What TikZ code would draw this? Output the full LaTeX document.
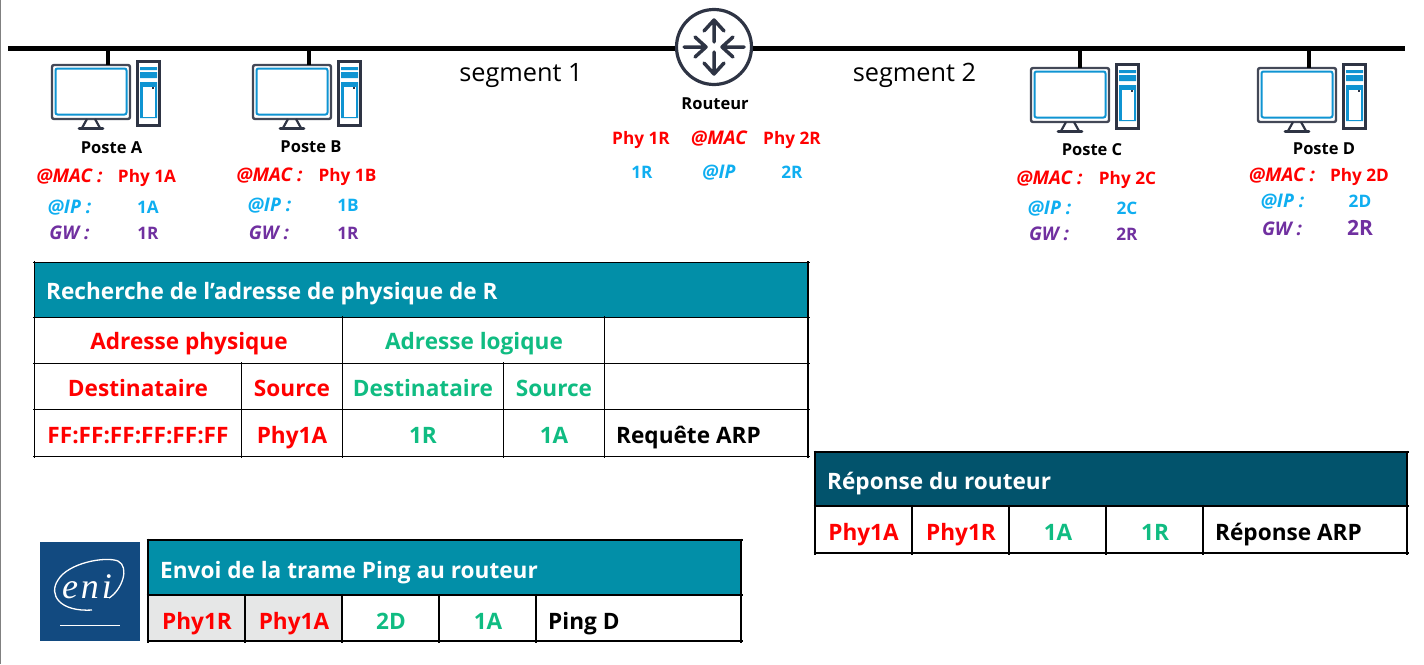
\documentclass[tikz,border=0pt]{standalone}
\usepackage{fontspec}
\setmainfont{Open Sans}
\newfontfamily\logofont[LetterSpace=8]{Liberation Serif}
\newcommand{\etqit}{\fontsize{18.8}{20}\selectfont\itshape}
\definecolor{rouge}{HTML}{FF0000}
\definecolor{ciel}{HTML}{0FAEF0}
\definecolor{violet}{HTML}{7030A0}
\definecolor{vert}{HTML}{10BC82}
\definecolor{sarcelle}{HTML}{028FA8}
\definecolor{petrole}{HTML}{02536C}
\definecolor{grisclair}{HTML}{E6E7E7}
\definecolor{ardoise}{HTML}{2E3444}
\definecolor{ecranbleu}{HTML}{0F94D2}
\definecolor{logobleu}{HTML}{124A80}
\tikzset{
    etq/.style={anchor=base, inner sep=0pt, yshift=-1pt, font=\fontsize{17.2}{20}\selectfont\bfseries},
    poste nom/.style={etq, font=\fontsize{16.5}{20}\selectfont\bfseries},
    segment/.style={anchor=base, inner sep=0pt, font=\fontsize{25.3}{28}\selectfont},
    cellule/.style={anchor=base, inner sep=0pt, yshift=-1pt, font=\fontsize{22.6}{26}\selectfont\bfseries},
    titre/.style={cellule, anchor=base west, white},
    cable/.style={black, line width=3.5pt},
    filet/.style={black, line width=1.2pt},
    poste/.pic={
        % --- ecran ---
        \draw[ardoise!90!white, line width=2.4pt, rounded corners=2pt] (0,0) rectangle (78,54);
        \draw[ecranbleu, line width=2pt, rounded corners=2pt] (3.5,3.5) rectangle (74.5,49.5);
        \draw[ardoise, line width=2.2pt] (35,54) -- (30,63) (43,54) -- (48,63);
        \draw[ardoise, line width=2.8pt, line cap=round] (27,63.5) -- (51,63.5);
        % --- unite centrale ---
        \fill[ecranbleu] (88,2) rectangle (105,5) (88,7) rectangle (105,13) (88,17) rectangle (105,53);
        \fill[white] (90.5,22) rectangle (103,52);
        \fill[ardoise] (99.5,21.5) rectangle (101.5,23.5);
        \draw[ardoise, line width=2.8pt] (85.3,-3.7) rectangle (107.7,60.7);
    }
}
\begin{document}
\begin{tikzpicture}[x=1pt, y=-1pt]
    \useasboundingbox (0,0) rectangle (1424,664);
    \draw[gray, line width=1.5pt] (0.7,0) -- (0.7,664);

    % --- routeur ---
    \node[circle, draw=ardoise, line width=3.2pt, minimum size=75pt, inner sep=0pt] (routeur) at (714,47) {};
    \begin{scope}[shift={(routeur.center)}, ardoise, line width=3.5pt, line cap=round, line join=round]
        \draw (0,-5) -- (0,-27) (-10,-16) -- (0,-27) -- (10,-16);
        \draw (0,5) -- (0,27) (-10,16) -- (0,27) -- (10,16);
        \draw (-30,0) -- (-8,0) (-19,-10) -- (-8,0) -- (-19,10);
        \draw (30,0) -- (8,0) (19,-10) -- (8,0) -- (19,10);
    \end{scope}

    % --- bus ---
    \coordinate (busG) at (8,48);
    \coordinate (busD) at (1405,48);
    \draw[black, line width=5pt] (busG) -- (routeur.west |- busG);
    \draw[black, line width=5pt] (routeur.east |- busD) -- (busD);

    % --- postes ---
    \foreach \nom/\x/\y/\prise in {posteA/52/65/56, posteB/253/65/56, posteC/1031/68/49, posteD/1258/68/51}{
        \pic at (\x,\y) {poste};
        \coordinate (\nom-prise) at (\x+\prise,\y);
        \coordinate (\nom-bus) at (\x+\prise,48);
        \draw[cable] (\nom-bus) -- (\nom-prise);
    }

    % --- noms ---
    \foreach \nom/\x/\y/\txt in {nomA/111.5/152/Poste A, nomB/311/151/Poste B, nomC/1092/154/Poste C, nomD/1324/153/Poste D}
        \node[poste nom] (\nom) at (\x,\y) {\txt};
    \node[poste nom] (nomR) at (715,108) {Routeur};
    \node[segment] (seg1) at (521,81) {segment 1};
    \node[segment] (seg2) at (914.5,81) {segment 2};

    % --- adresses physiques ---
    \foreach \nom/\x/\y/\txt in {phyA/147/181/Phy 1A, phyB/347.5/180/Phy 1B, phyC/1127.5/183/Phy 2C, phyD/1359.5/180/Phy 2D, phyR1/641/143/Phy 1R, phyR2/792/143/Phy 2R}
        \node[etq, rouge] (\nom) at (\x,\y) {\txt};
    \foreach \nom/\x/\y in {macA/69.5/181, macB/269.5/180, macC/1049.5/183, macD/1282/180}
        \node[etq, rouge] (\nom) at (\x,\y) {\etqit @MAC :};
    \node[etq, rouge] (macR) at (719,143) {\etqit @MAC};

    % --- adresses logiques ---
    \foreach \nom/\x/\y/\txt in {valA/148/212/1A, valB/348/210/1B, valC/1127/213/2C, valD/1360/206/2D, valR1/642/177/1R, valR2/792/177/2R}
        \node[etq, ciel] (\nom) at (\x,\y) {\txt};
    \foreach \nom/\x/\y in {ipA/69.5/212, ipB/269.5/210, ipC/1049.5/213, ipD/1282.5/206}
        \node[etq, ciel] (\nom) at (\x,\y) {\etqit @IP :};
    \node[etq, ciel] (ipR) at (719,177) {\etqit @IP};

    % --- passerelles ---
    \foreach \nom/\x/\y/\txt in {gwvalA/148/238/1R, gwvalB/348/238/1R, gwvalC/1127/239/2R}
        \node[etq, violet] (\nom) at (\x,\y) {\txt};
    \node[etq, violet, font=\fontsize{21}{24}\selectfont\bfseries] (gwvalD) at (1360,234) {2R};
    \foreach \nom/\x/\y in {gwA/69.5/238, gwB/269/238, gwC/1049/239, gwD/1282/234}
        \node[etq, violet] (\nom) at (\x,\y) {\etqit GW :};

    % --- tableau recherche ---
    \fill[sarcelle] (34.5,262.5) rectangle (808,317.5);
    \draw[filet] (33,262.5) -- (809.5,262.5) (33,317.5) -- (809.5,317.5) (33,363.5) -- (809.5,363.5) (33,409.5) -- (809.5,409.5) (33,456.5) -- (809.5,456.5);
    \draw[filet] (34.5,261) -- (34.5,458) (808,261) -- (808,458);
    \draw[filet] (342.5,316) -- (342.5,458) (604.5,316) -- (604.5,458);
    \draw[filet] (241.5,362) -- (241.5,458) (503.5,362) -- (503.5,458);
    \node[titre] (rechTitre) at (46,298) {Recherche de l’adresse de physique de R};
    \node[cellule, rouge] (rechPhy) at (189,348) {Adresse physique};
    \node[cellule, vert] (rechLog) at (474,348) {Adresse logique};
    \foreach \nom/\x/\y/\txt/\col in {rechDa/138/395/Destinataire/rouge, rechSa/292/395/Source/rouge, rechDb/423/395/Destinataire/vert, rechSb/554/395/Source/vert, rechFF/138/442/FF:FF:FF:FF:FF:FF/rouge, rechPa/292/442/Phy1A/rouge, rechIa/423/442/1R/vert, rechIb/554/442/1A/vert}
        \node[cellule, text=\col] (\nom) at (\x,\y) {\txt};
    \node[cellule, anchor=base west] (rechArp) at (616,442) {Requête ARP};

    % --- tableau reponse ---
    \fill[petrole] (815,452) rectangle (1407,506);
    \draw[filet] (813.5,452) -- (1408.5,452) (813.5,506) -- (1408.5,506) (813.5,553) -- (1408.5,553);
    \draw[filet] (815,450.5) -- (815,554.5) (1407,450.5) -- (1407,554.5);
    \foreach \x in {912,1009,1106,1203}
        \draw[filet] (\x,504.5) -- (\x,554.5);
    \node[titre] (repTitre) at (827,488) {Réponse du routeur};
    \foreach \nom/\x/\txt/\col in {repA/863.5/Phy1A/rouge, repB/961/Phy1R/rouge, repC/1058/1A/vert, repD/1155/1R/vert}
        \node[cellule, text=\col] (\nom) at (\x,539) {\txt};
    \node[cellule, anchor=base west] (repArp) at (1215,539) {Réponse ARP};

    % --- logo ---
    \fill[logobleu] (40,542) rectangle (140,641);
    \draw[white, line width=1.3pt] (92,610) .. controls (60,612) and (48,595) .. (58,580) .. controls (68,563) and (105,556) .. (118,561) .. controls (130,567) and (122,590) .. (109,598);
    \draw[white, line width=1.4pt] (60,625.5) -- (120,625.5);
    \node[anchor=base, inner sep=0pt, white, font=\logofont\itshape\fontsize{36}{38}\selectfont] (logoNom) at (87,598) {eni};

    % --- tableau ping ---
    \fill[sarcelle] (148,540) rectangle (741,595);
    \fill[grisclair] (148,595) rectangle (342,641);
    \draw[filet] (146.5,540) -- (742.5,540) (146.5,595) -- (742.5,595) (146.5,641) -- (742.5,641);
    \draw[filet] (148,538.5) -- (148,642.5) (741,538.5) -- (741,642.5);
    \foreach \x in {245,342,439,536}
        \draw[filet] (\x,593.5) -- (\x,642.5);
    \node[titre] (pingTitre) at (160,577) {Envoi de la trame Ping au routeur};
    \foreach \nom/\x/\txt/\col in {pingA/197/Phy1R/rouge, pingB/294/Phy1A/rouge, pingC/391/2D/vert, pingD/488/1A/vert}
        \node[cellule, text=\col] (\nom) at (\x,628) {\txt};
    \node[cellule, anchor=base west] (pingTxt) at (548,628) {Ping D};
\end{tikzpicture}
\end{document}
